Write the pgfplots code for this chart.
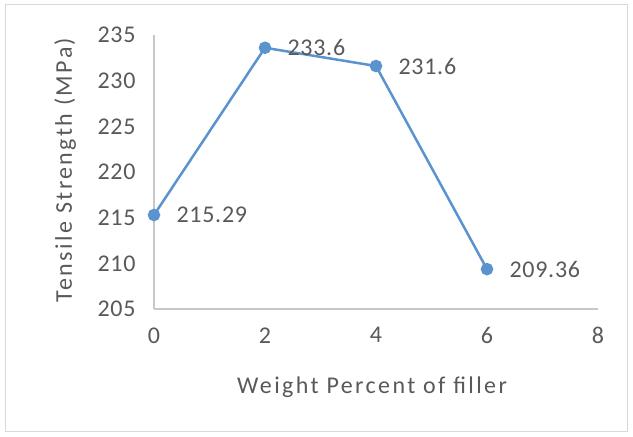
\documentclass[border=0pt]{standalone}
\usepackage{pgfplots}
\pgfplotsset{compat=1.18}
\usepackage{fontspec}
\setmainfont{Carlito}
\newfontfamily\lblfont[LetterSpace=10]{Carlito}
\newfontfamily\tickfont[LetterSpace=3]{Carlito}
\definecolor{txtgray}{HTML}{595959}
\definecolor{axgray}{HTML}{C8C8C8}
\definecolor{framegray}{HTML}{D9D9D9}
\definecolor{serblue}{HTML}{5B93CF}
\begin{document}
\begin{tikzpicture}
\begin{axis}[
    scale only axis,
    width=444pt, height=274pt,
    xmin=0, xmax=8, ymin=205, ymax=235,
    xtick={0,2,4,6,8},
    ytick={205,210,...,235},
    axis x line=bottom, axis y line=left,
    axis line style={axgray, line width=1.2pt, -},
    major tick length=0pt,
    tick label style={font=\tickfont\fontsize{24}{26}\selectfont, text=txtgray},
    /pgf/number format/assume math mode=true,
    xticklabel style={yshift=-15pt},
    yticklabel style={xshift=-15pt},
    xlabel={Weight Percent of filler},
    ylabel={Tensile Strength (MPa)},
    label style={font=\lblfont\fontsize{24}{26}\selectfont, text=txtgray},
    xlabel style={at={(axis description cs:0.491,-0.285)}, anchor=center},
    ylabel style={at={(axis description cs:-0.2,0.507)}, anchor=center, rotate=0},
    clip=false,
    nodes near coords,
    point meta=explicit symbolic,
    every node near coord/.style={anchor=west, xshift=18pt, yshift=0pt, font=\tickfont\fontsize{24}{26}\selectfont, text=txtgray},
]
% invisible page box and light frame (pixel layout of the reference)
\path (axis cs:-2.775,190.985) rectangle (axis cs:8.631,238.83);
\draw[framegray, line width=1pt] (axis cs:-2.667,191.53) rectangle (axis cs:8.54,238.39);
\addplot[serblue, line width=2.5pt, mark=*, mark size=5pt, mark options={fill=serblue, draw=serblue}]
    coordinates {(0,215.29) [215.29] (2,233.6) [233.6] (4,231.6) [231.6] (6,209.36) [209.36]};
\end{axis}
\end{tikzpicture}
\end{document}
